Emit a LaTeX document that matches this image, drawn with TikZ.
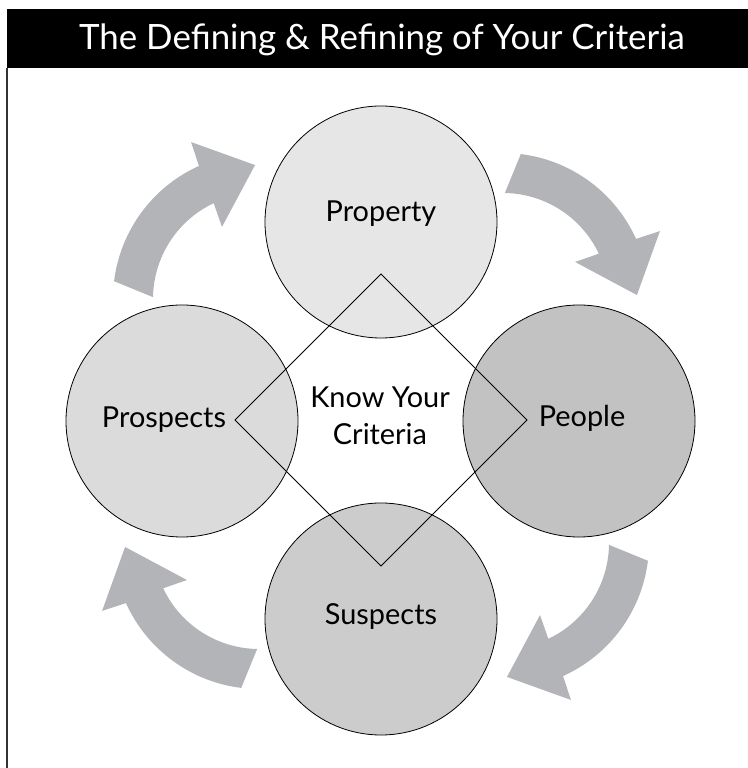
\documentclass[tikz,border=0pt]{standalone}
\usepackage{fontspec}
\setmainfont{Lato}
\definecolor{arrowgray}{HTML}{B3B4B7}
\definecolor{lightA}{HTML}{E6E6E6}
\definecolor{lightB}{HTML}{DBDBDB}
\definecolor{darkA}{HTML}{C2C2C2}
\definecolor{darkB}{HTML}{CCCCCC}
\begin{document}
\begin{tikzpicture}[x=1bp,y=1bp,
  bubble/.style={circle, draw=black, line width=0.8bp, minimum size=232bp, inner sep=0pt},
  lbl/.style={font=\fontsize{29}{35}\selectfont, text=black, anchor=base, inner sep=0pt},
  cyclearrow/.style={fill=arrowgray, draw=none},
  rhomb/.style={draw=black, line width=0.8bp}]
\useasboundingbox (0,0) rectangle (748,768);
% title bar
\fill[black] (7,700) rectangle (748,759);
\node[anchor=base, text=white, font=\fontsize{35}{40}\selectfont, inner sep=0pt] (title) at (382,718) {The Defining \& Refining of Your Criteria};
\draw[line width=1.5bp, black!80] (7,0) -- (7,700);
% curved arrows
\foreach \k in {0,1,2,3} {
  \begin{scope}[shift={(381,347)}, rotate=-90*\k, shift={(-122,122)}]
    \fill[cyclearrow] (173:146) arc[start angle=173, end angle=114.3, radius=146]
      -- (113.4:171) -- (91.7:134) -- (117.2:81) -- (115.3:106)
      arc[start angle=115.3, end angle=179, radius=106] -- cycle;
  \end{scope}
}
% circles
\node[bubble, fill=lightA] (property) at (381,546) {};
\node[bubble, fill=darkA] (people) at (579,347) {};
\node[bubble, fill=darkB] (suspects) at (381,149) {};
\node[bubble, fill=lightB] (prospects) at (182,347) {};
% diamond
\coordinate (dtop) at (381,494);
\coordinate (dright) at (527,348);
\coordinate (dbottom) at (381,202);
\coordinate (dleft) at (235,348);
\draw[rhomb] (dtop) -- (dright) -- (dbottom) -- (dleft) -- cycle;
% labels
\node[lbl] (tproperty) at (381,546) {Property};
\node[lbl] (tpeople) at (582,341) {People};
\node[lbl] (tprospects) at (164,340) {Prospects};
\node[lbl] (tsuspects) at (381,143) {Suspects};
\node[lbl] (tknow) at (380,360) {Know Your};
\node[lbl] (tcrit) at (380,323) {Criteria};
\end{tikzpicture}
\end{document}
